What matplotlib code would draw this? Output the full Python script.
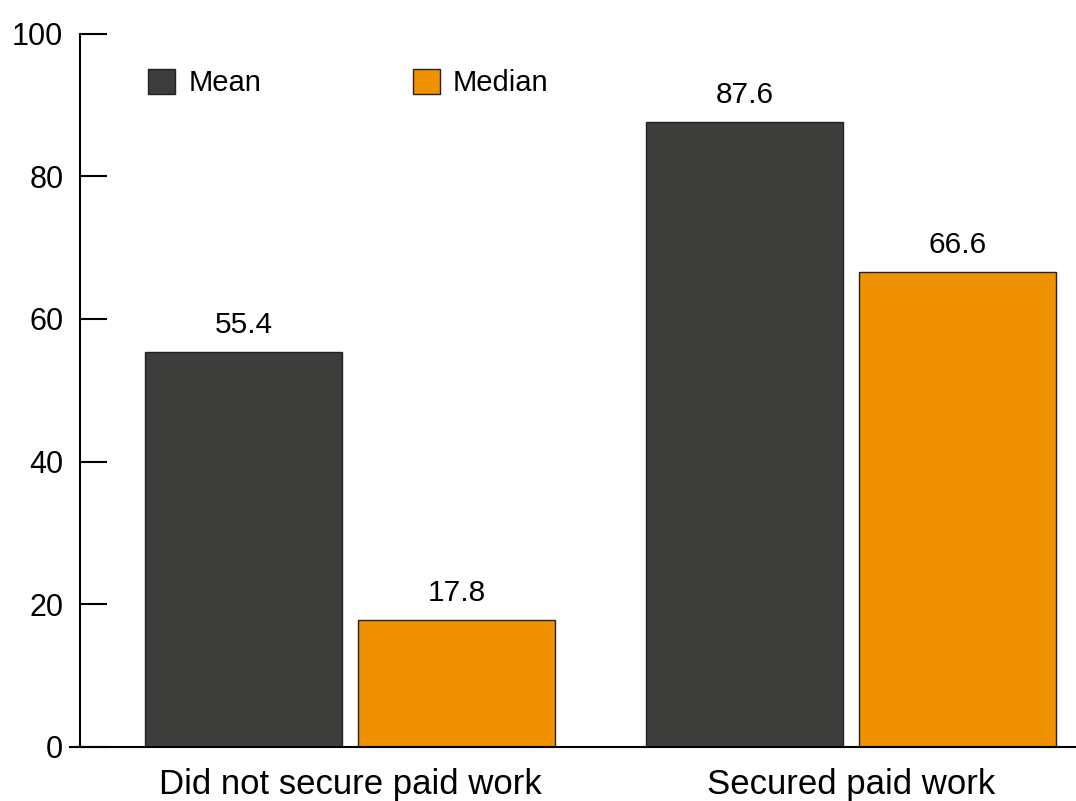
import matplotlib
matplotlib.use("Agg")
import matplotlib.pyplot as plt
import numpy as np

categories = ["Did not secure paid work", "Secured paid work"]
series_names = ["Mean", "Median"]
mean_values = [55.4, 87.6]
median_values = [17.8, 66.6]
y_ticks = [0, 20, 40, 60, 80, 100]

colors = ["#3c3c3b", "#f09100"]

plt.rcParams['font.family'] = ['Liberation Sans', 'DejaVu Sans']

W, H = 1076, 801
fig = plt.figure(figsize=(W / 100, H / 100), dpi=100)
ax = fig.add_axes([80 / W, 1 - 747 / H, 1 - 80 / W, (747 - 33.5) / H])

x = np.arange(len(categories))
width = 0.393
offset = 0.2126
series = [mean_values, median_values]
for i, (name, vals) in enumerate(zip(series_names, series)):
    pos = x + (-offset if i == 0 else offset)
    bars = ax.bar(pos, vals, width, color=colors[i], edgecolor="#222222",
                  linewidth=1.0, label=name, zorder=2)
    for b, v in zip(bars, vals):
        ax.annotate(f"{v:.1f}", (b.get_x() + b.get_width() / 2, v),
                    xytext=(0, 9), textcoords="offset points",
                    ha="center", va="bottom", fontsize=21.5)

ax.set_xlim(-0.539, 1.449)
ax.set_ylim(0, 100)
ax.set_yticks(y_ticks)
ax.set_yticklabels([str(t) for t in y_ticks], fontsize=22)
ax.tick_params(axis="y", direction="in", length=19.5, width=1.5, pad=12)
ax.set_xticks(x)
ax.set_xticklabels(categories, fontsize=25)
ax.tick_params(axis="x", length=0, pad=15)

for s in ["top", "right"]:
    ax.spines[s].set_visible(False)
ax.spines["left"].set_linewidth(1.5)
ax.spines["bottom"].set_linewidth(1.5)
ax.spines["bottom"].set_bounds(-0.559, 1.449)

leg = ax.legend(loc="center left", bbox_to_anchor=(148 / W, 1 - 83 / H),
                bbox_transform=fig.transFigure, ncol=2, frameon=False,
                fontsize=21, handlelength=0.93, handleheight=0.93,
                handletextpad=0.45, columnspacing=5.2, borderpad=0,
                borderaxespad=0)
for p in leg.get_patches():
    p.set_linewidth(1.0)

fig.savefig("out.png", dpi=100)
